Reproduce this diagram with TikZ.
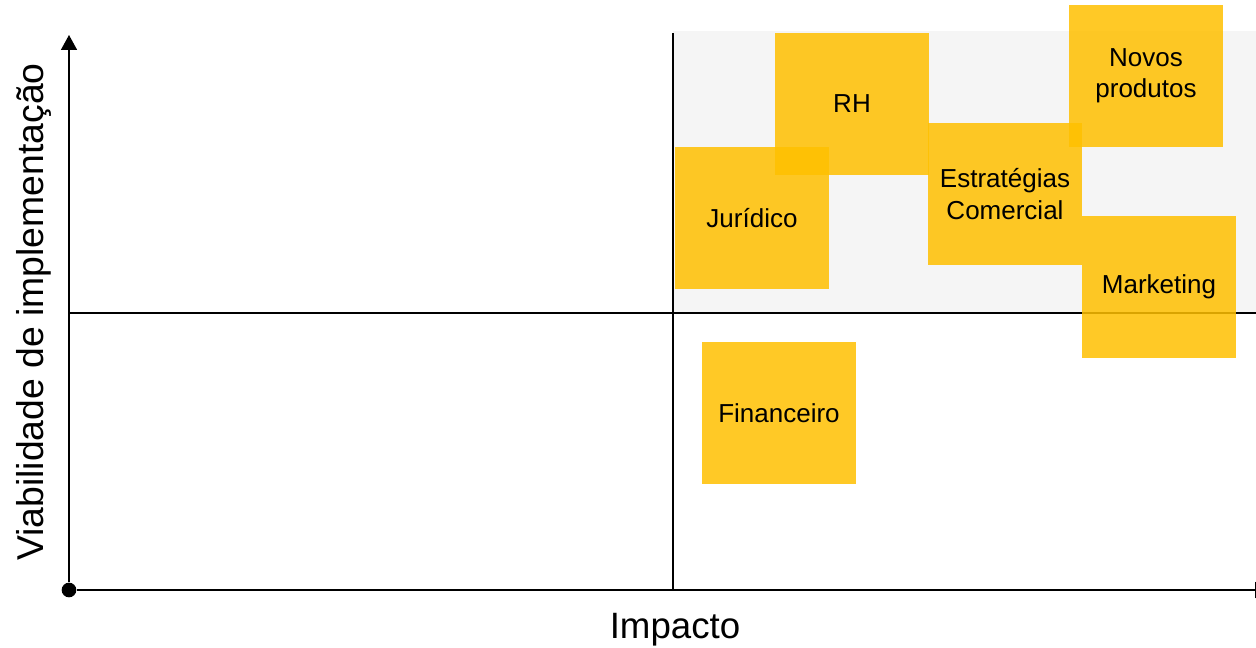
\documentclass[tikz,border=0pt]{standalone}
\usepackage{fontspec}
\setmainfont{Liberation Sans}
\usepackage{tikz}
\usetikzlibrary{arrows.meta}
\usetikzlibrary{positioning}
\definecolor{postityellow}{HTML}{FFC000}
\definecolor{quadgray}{HTML}{F5F5F5}
\tikzstyle{postit} = [fill=postityellow, fill opacity=0.85, text opacity=1, inner sep=0pt, minimum width=115.5pt, minimum height=106.5pt, align=center, font=\fontsize{19.5}{23.5}\selectfont]
\tikzstyle{axis} = [line width=1.2pt]
\tikzstyle{origindot} = [draw=none, fill=black, circle, inner sep=0pt, minimum size=11pt]

\begin{document}
\begin{tikzpicture}[x=0.75pt,y=0.75pt]
                        \clip (0,0) rectangle (1256,647);
                        \fill[quadgray](673,334) rectangle (1256,616);

                        \node[origindot](O) at (69,57) {};
                        \coordinate (Ytop) at (69,612);
                        \coordinate (Xend) at (1270,57);
                        \coordinate (Qbot) at (673,57);
                        \coordinate (Qtop) at (673,614);
                        \coordinate (Hleft) at (69,334);
                        \coordinate (Hright) at (1256,334);

                        \draw[axis,-{Triangle[length=11.25pt,width=12pt]}](O) -- (Ytop);
                        \draw[axis,-{Triangle[length=11.25pt,width=12pt]}](O) -- (Xend);
                        \draw[line width=1pt](Qbot) -- (Qtop);
                        \draw[line width=1pt](Hleft) -- (Hright);

                        \node[postit](rh) at (852,543) {RH};
                        \node[postit](juridico) at (752,429) {Jurídico};
                        \node[postit](estrategias) at (1005,453) {Estratégias\\Comercial};
                        \node[postit](novos) at (1146,571) {Novos\\produtos};
                        \node[postit](marketing) at (1159,360) {Marketing};
                        \node[postit](financeiro) at (779,234) {Financeiro};

                        \node[anchor=base,font=\fontsize{27.5}{33}\selectfont](impacto) at (675,9) {Impacto};
                        \node[anchor=base,rotate=90,font=\fontsize{28}{33}\selectfont](viabilidade) at (43,335) {Viabilidade de implementação};
                    \end{tikzpicture}
\end{document}
